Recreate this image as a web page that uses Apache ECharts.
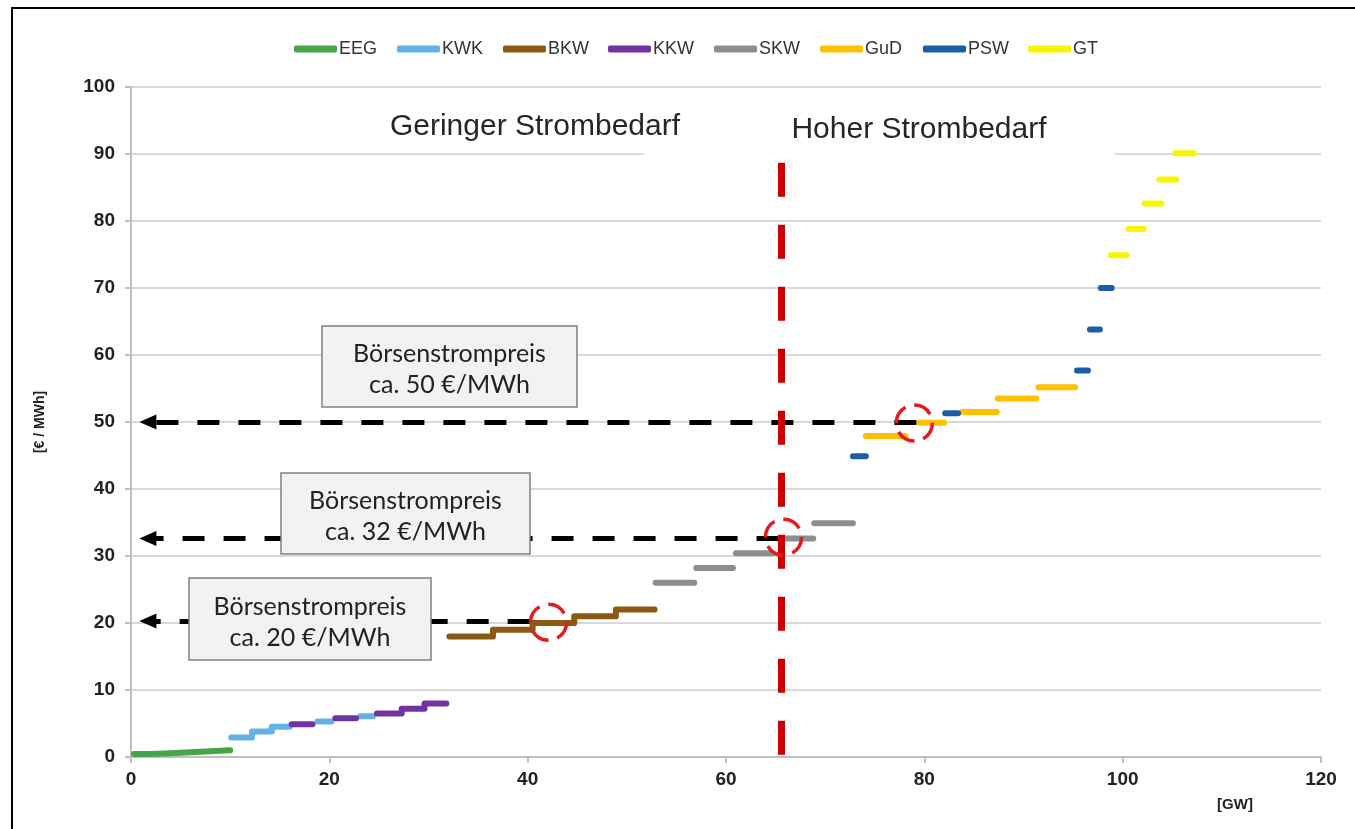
<!DOCTYPE html>
<html><head><meta charset="utf-8">
<script src="https://cdn.jsdelivr.net/npm/echarts@6/dist/echarts.min.js"></script>
<style>html,body{margin:0;padding:0;background:#fff}#c{width:1355px;height:829px}</style>
</head><body><div id="c"></div>
<script>
// ---- data (segments: [GW start, GW end, €/MWh]) ----
const seriesNames = ['EEG','KWK','BKW','KKW','SKW','GuD','PSW','GT'];
const xTicks = [0,20,40,60,80,100,120];
const yTicks = [0,10,20,30,40,50,60,70,80,90,100];
const EEG = [[0.3,2,0.45],[2,4,0.55],[4,6,0.7],[6,8,0.85],[8,10,1.0]];
const KWK = [[10.1,12.2,2.9],[12.2,14.2,3.8],[14.2,16,4.5],[18.8,20.2,5.3],[23.1,24.4,6.1]];
const BKW = [[32.1,36.5,18],[36.5,40.5,19],[40.5,44.7,20],[44.7,48.9,21],[48.9,52.8,22]];
const KKW = [[16.2,18.3,4.9],[20.6,22.7,5.8],[24.8,27.3,6.5],[27.3,29.6,7.2],[29.6,31.8,8.0]];
const SKW = [[52.9,56.8,26.0],[57.0,60.7,28.2],[61.0,64.7,30.4],[65.3,68.8,32.6],[68.9,72.8,34.9]];
const GuD = [[74.1,78.1,47.9],[79.5,82.0,49.9],[83.8,87.3,51.5],[87.4,91.3,53.5],[91.5,95.2,55.2]];
const PSW = [[72.8,74.1,44.9],[82.1,83.4,51.3],[95.4,96.5,57.7],[96.7,97.7,63.8],[97.8,98.9,70.0]];
const GT  = [[98.8,100.4,74.9],[100.6,102.1,78.8],[102.2,103.9,82.6],[103.7,105.4,86.2],[105.3,107.2,90.1]];
const stairSeries = ['EEG','KWK','BKW','KKW'];
const priceLevels = [50, 32.6, 20.3];
const priceArrowEnds = [79.2, 65.3, 40.2];
const priceLabels = ['Börsenstrompreis\nca. 50 €/MWh','Börsenstrompreis\nca. 32 €/MWh','Börsenstrompreis\nca. 20 €/MWh'];
const crossPoints = [[79.0,49.85],[65.8,32.8],[42.1,20.1]];
const demandLineX = 65.6;
const demandLineTop = 88.7;
const regionLabels = ['Geringer Strombedarf','Hoher Strombedarf'];

const segData = {EEG,KWK,BKW,KKW,SKW,GuD,PSW,GT};
const colors = {EEG:'#46a546',KWK:'#62b2e6',BKW:'#8a5a14',KKW:'#7133a3',SKW:'#8e8e8e',GuD:'#ffc000',PSW:'#1c5da8',GT:'#f6f600'};
const legendLeft = [289,392,498,603,709,815,918,1023];

function buildData(segs, stairs){
  const out=[];
  segs.forEach((s,i)=>{
    if(i>0){
      const p=segs[i-1];
      if(!(stairs && p[1]===s[0])) out.push(['-','-']);
    }
    out.push([s[0],s[2]]); out.push([s[1],s[2]]);
  });
  return out;
}

const series = seriesNames.map(n=>({
  name:n, type:'line', data:buildData(segData[n], stairSeries.includes(n)),
  showSymbol:false, symbol:'none', color:colors[n], connectNulls:false,
  lineStyle:{width:6,color:colors[n],cap:'round',join:'round'},
  emphasis:{disabled:true}, animation:false
}));

const markLines = priceLevels.map((p,i)=>([
  {coord:[priceArrowEnds[i],p],symbol:'none'},
  {coord:[1.7,p],symbol:'triangle',symbolSize:[15,17]}
]));
markLines.push([
  {coord:[demandLineX,demandLineTop],symbol:'none',lineStyle:{color:'#cc0000',width:7,type:[34,28]}},
  {coord:[demandLineX,0],symbol:'none'}
]);

series.push({
  name:'annot', type:'line', data:[], animation:false, silent:true,
  markLine:{silent:true, animation:false, symbol:['none','none'],
    label:{show:false},
    lineStyle:{color:'#000',width:5,type:[22,19]},
    emphasis:{disabled:true},
    data:markLines},
  markPoint:{silent:true, animation:false, symbol:'circle', symbolSize:36,
    label:{show:false},
    itemStyle:{color:'rgba(0,0,0,0)',borderColor:'#e31b1b',borderWidth:3.5,borderType:[19,9]},
    data:crossPoints.map(c=>({coord:c}))}
});

const boxes = [
  {x:322,y:326,w:255,h:81},
  {x:281,y:473,w:249,h:81},
  {x:189,y:578,w:242,h:82}
];
const graphics = [
  {type:'rect', z:1, shape:{x:644,y:147,width:471,height:13}, style:{fill:'#fff'}},
  {type:'text', z:100, x:535, y:127, style:{text:regionLabels[0], font:'30px "Liberation Sans", Arial, sans-serif', fill:'#262626', align:'center', verticalAlign:'middle'}},
  {type:'text', z:100, x:919, y:130, style:{text:regionLabels[1], font:'30px "Liberation Sans", Arial, sans-serif', fill:'#262626', align:'center', verticalAlign:'middle'}},
  {type:'text', z:100, x:1235, y:805, style:{text:'[GW]', font:'bold 15px "Liberation Sans", Arial, sans-serif', fill:'#222', align:'center', verticalAlign:'middle'}},
  {type:'rect', z:100, shape:{x:12,y:8,width:1400,height:900}, style:{fill:'none',stroke:'#000',lineWidth:2}}
];
boxes.forEach((b,i)=>{
  graphics.push({type:'rect', z:100, shape:{x:b.x,y:b.y,width:b.w,height:b.h}, style:{fill:'#f2f2f2',stroke:'#808080',lineWidth:1.5}});
  graphics.push({type:'text', z:101, x:b.x+b.w/2, y:b.y+b.h/2+3, style:{text:priceLabels[i], font:'25px Lato, "Open Sans", sans-serif', fill:'#222', align:'center', verticalAlign:'middle', lineHeight:31}});
});

const legends = seriesNames.map((n,i)=>({
  data:[n], left:legendLeft[i], top:35, icon:'roundRect', itemWidth:43, itemHeight:7,
  textStyle:{fontSize:18, color:'#333', fontFamily:'"Liberation Sans", Arial, sans-serif', padding:[0,0,0,-3]},
  selectedMode:false
}));

const chart = echarts.init(document.getElementById('c'), null, {renderer:'canvas'});
chart.setOption({
  animation:false,
  backgroundColor:'#fff',
  legend:legends,
  grid:{left:131,right:34,top:87,bottom:72,containLabel:false},
  xAxis:{type:'value', min:xTicks[0], max:xTicks[xTicks.length-1], interval:xTicks[1]-xTicks[0],
    axisLine:{show:true,lineStyle:{color:'#c0c0c0',width:2}},
    axisTick:{show:true,length:6,lineStyle:{color:'#c0c0c0',width:2}},
    splitLine:{show:false},
    axisLabel:{margin:13,fontSize:19,fontWeight:'bold',color:'#222',fontFamily:'"Liberation Sans", Arial, sans-serif'}},
  yAxis:{type:'value', min:yTicks[0], max:yTicks[yTicks.length-1], interval:yTicks[1]-yTicks[0],
    name:'[€ / MWh]', nameLocation:'middle', nameGap:84, nameRotate:90,
    nameTextStyle:{fontSize:14,fontWeight:'bold',color:'#222',fontFamily:'"Liberation Sans", Arial, sans-serif'},
    axisLine:{show:true,lineStyle:{color:'#c0c0c0',width:2}},
    axisTick:{show:true,length:6,lineStyle:{color:'#c0c0c0',width:2}},
    splitLine:{show:true,lineStyle:{color:'#d9d9d9',width:2}},
    axisLabel:{margin:16,fontSize:19,fontWeight:'bold',color:'#222',fontFamily:'"Liberation Sans", Arial, sans-serif'}},
  series:series,
  graphic:graphics
});
</script></body></html>
